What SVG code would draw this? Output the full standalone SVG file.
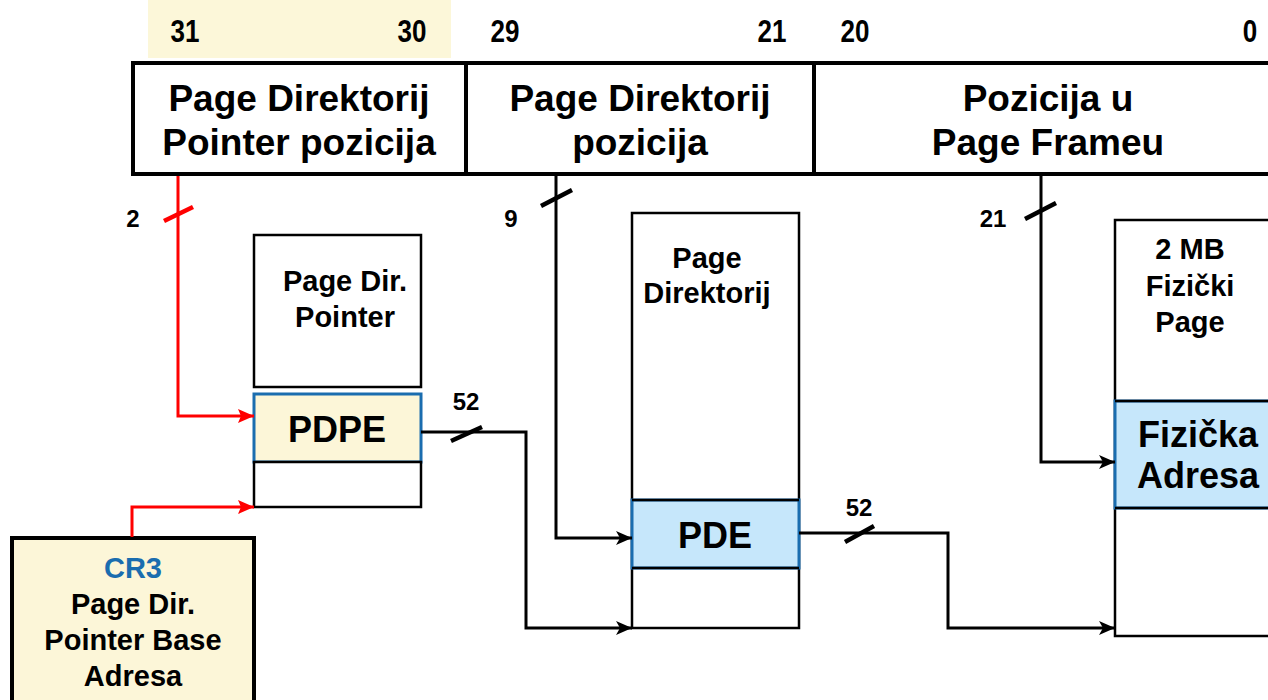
<svg xmlns="http://www.w3.org/2000/svg" width="1268" height="700" viewBox="0 0 1268 700">
<style>
text{font-family:"Liberation Sans",Arial,sans-serif;font-weight:bold;fill:#000;text-anchor:middle}
.bit{font-size:26px}
.hdr{font-size:37px}
.lbl{font-size:29px}
.big{font-size:36px}
.num{font-size:24px}
.box{fill:#fff;stroke:#000;stroke-width:2.5}
.ybox{fill:#FCF6D8;stroke:#1A6DAF;stroke-width:3}
.bbox{fill:#C6E7FB;stroke:#1A6DAF;stroke-width:3}
.bl{fill:none;stroke:#000;stroke-width:3}
.rl{fill:none;stroke:#FF0000;stroke-width:3}
.tick{stroke:#000;stroke-width:4.5}
.rtick{stroke:#FF0000;stroke-width:4.5}
</style>
<defs>
<marker id="ab" viewBox="0 0 16 14" refX="16" refY="7" markerWidth="16" markerHeight="14" markerUnits="userSpaceOnUse" orient="auto">
<path d="M0,0 L16,7 L0,14 L4,7 z" fill="#000"/>
</marker>
<marker id="ar" viewBox="0 0 16 14" refX="16" refY="7" markerWidth="16" markerHeight="14" markerUnits="userSpaceOnUse" orient="auto">
<path d="M0,0 L16,7 L0,14 L3,7 z" fill="#FF0000"/>
</marker>
</defs>
<rect width="1268" height="700" fill="#fff"/>

<g id="bits">
<rect x="148" y="0" width="303" height="58" fill="#FCF7D9"/>
<g transform="translate(0,42) scale(1,1.2)">
<text class="bit" x="185" y="0">31</text>
<text class="bit" x="412" y="0">30</text>
<text class="bit" x="505" y="0">29</text>
<text class="bit" x="772" y="0">21</text>
<text class="bit" x="855" y="0">20</text>
<text class="bit" x="1250" y="0">0</text>
</g>
</g>

<g id="address">
<rect x="133" y="63" width="1150" height="111" fill="#fff" stroke="#000" stroke-width="4"/>
<line x1="466" y1="63" x2="466" y2="174" stroke="#000" stroke-width="4"/>
<line x1="814" y1="63" x2="814" y2="174" stroke="#000" stroke-width="4"/>
<text class="hdr" x="299" y="111">Page Direktorij</text>
<text class="hdr" x="299" y="155">Pointer pozicija</text>
<text class="hdr" x="640" y="111">Page Direktorij</text>
<text class="hdr" x="640" y="155">pozicija</text>
<text class="hdr" x="1048" y="111">Pozicija u</text>
<text class="hdr" x="1048" y="155">Page Frameu</text>
</g>

<g id="pdp-table">
<rect class="box" x="254" y="235" width="167" height="152"/>
<text class="lbl" x="345" y="291">Page Dir.</text>
<text class="lbl" x="345" y="327">Pointer</text>
<rect class="ybox" x="254" y="394" width="167" height="68"/>
<rect class="box" x="254" y="462" width="167" height="45"/>
<text class="big" x="337" y="442">PDPE</text>
</g>

<g id="pd-table">
<rect class="box" x="632" y="213" width="167" height="415"/>
<text class="lbl" x="707" y="268">Page</text>
<text class="lbl" x="707" y="303">Direktorij</text>
<rect class="bbox" x="632" y="500" width="167" height="68"/>
<line x1="632" y1="500" x2="799" y2="500" stroke="#000" stroke-width="2.5"/>
<line x1="632" y1="568" x2="799" y2="568" stroke="#000" stroke-width="2.5"/>
<text class="big" x="715" y="548">PDE</text>
</g>

<g id="page">
<rect class="box" x="1115" y="220" width="170" height="416"/>
<text class="lbl" x="1190" y="259">2 MB</text>
<text class="lbl" x="1190" y="296">Fizički</text>
<text class="lbl" x="1190" y="332">Page</text>
<rect class="bbox" x="1115" y="401" width="170" height="107"/>
<line x1="1115" y1="401" x2="1268" y2="401" stroke="#000" stroke-width="2.5"/>
<line x1="1115" y1="508" x2="1268" y2="508" stroke="#000" stroke-width="2.5"/>
<text class="big" x="1198" y="447">Fizička</text>
<text class="big" x="1198" y="488">Adresa</text>
</g>

<g id="cr3">
<rect x="12" y="538" width="242" height="180" fill="#FCF6D8" stroke="#000" stroke-width="4"/>
<text class="lbl" x="133" y="578" style="fill:#1A6DAF">CR3</text>
<text class="lbl" x="133" y="614">Page Dir.</text>
<text class="lbl" x="133" y="650">Pointer Base</text>
<text class="lbl" x="133" y="686">Adresa</text>
</g>

<g id="connectors">
<polyline class="rl" points="178,176 178,416 254,416" marker-end="url(#ar)"/>
<line class="rtick" x1="164" y1="221" x2="193" y2="207"/>
<text class="num" x="133" y="227">2</text>
<polyline class="rl" points="132,537 132,507 254,507" marker-end="url(#ar)"/>

<polyline class="bl" points="421,432 526,432 526,628 632,628" marker-end="url(#ab)"/>
<line class="tick" x1="451" y1="441" x2="482" y2="427"/>
<text class="num" x="466" y="410">52</text>

<polyline class="bl" points="556,176 556,538 632,538" marker-end="url(#ab)"/>
<line class="tick" x1="541" y1="206" x2="572" y2="190"/>
<text class="num" x="511" y="227">9</text>

<polyline class="bl" points="799,533 948,533 948,628 1115,628" marker-end="url(#ab)"/>
<line class="tick" x1="845" y1="542" x2="874" y2="526"/>
<text class="num" x="859" y="516">52</text>

<polyline class="bl" points="1041,176 1041,462 1115,462" marker-end="url(#ab)"/>
<line class="tick" x1="1025" y1="219" x2="1056" y2="203"/>
<text class="num" x="993" y="227">21</text>
</g>
</svg>
